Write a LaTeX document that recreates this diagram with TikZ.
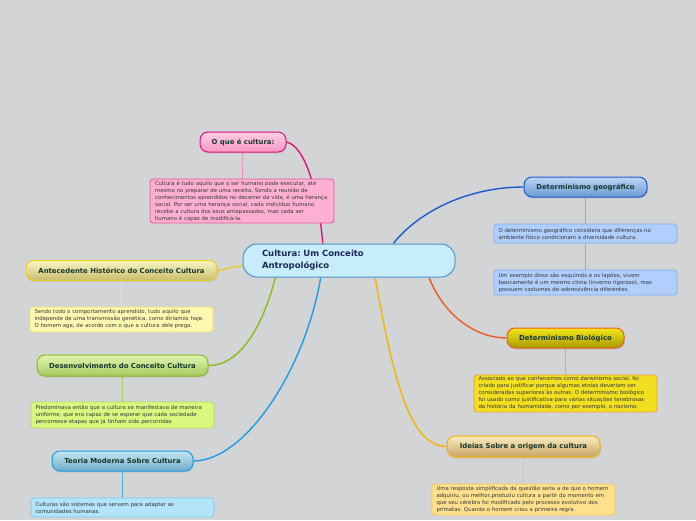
\documentclass[tikz,border=0pt]{standalone}
\usepackage{fontspec}
\setmainfont{DejaVu Sans}
\usetikzlibrary{shadows,backgrounds}
\frenchspacing

\definecolor{bgcol}{RGB}{211,212,214}
\definecolor{topictext}{RGB}{22,56,44}
\definecolor{notetext}{RGB}{55,55,55}
\definecolor{maintext}{RGB}{26,40,86}
% pink branch
\definecolor{pinkline}{RGB}{224,21,122}
\definecolor{pinktop}{RGB}{255,206,228}
\definecolor{pinkbot}{RGB}{255,150,198}
\definecolor{pinknote}{RGB}{255,176,210}
\definecolor{pinkedge}{RGB}{232,88,158}
% yellow branch
\definecolor{yelline}{RGB}{232,208,32}
\definecolor{yeltop}{RGB}{250,246,196}
\definecolor{yelbot}{RGB}{200,188,108}
\definecolor{yelnote}{RGB}{255,248,176}
\definecolor{yeledge}{RGB}{240,224,112}
% green branch
\definecolor{grnline}{RGB}{140,188,28}
\definecolor{grntop}{RGB}{226,246,178}
\definecolor{grnbot}{RGB}{168,200,96}
\definecolor{grnnote}{RGB}{216,248,128}
\definecolor{grnedge}{RGB}{180,220,88}
% light blue branch
\definecolor{cyaline}{RGB}{28,158,230}
\definecolor{cyatop}{RGB}{196,230,242}
\definecolor{cyabot}{RGB}{112,172,200}
\definecolor{cyanote}{RGB}{178,228,250}
\definecolor{cyaedge}{RGB}{124,200,240}
% dark blue branch
\definecolor{bluline}{RGB}{26,92,208}
\definecolor{blutop}{RGB}{188,214,246}
\definecolor{blubot}{RGB}{108,152,208}
\definecolor{blunote}{RGB}{176,206,255}
\definecolor{bluedge}{RGB}{132,174,234}
% orange-red branch
\definecolor{redline}{RGB}{240,90,34}
\definecolor{oliveTop}{RGB}{244,232,24}
\definecolor{oliveBot}{RGB}{168,152,0}
\definecolor{olivenote}{RGB}{240,224,32}
\definecolor{oliveedge}{RGB}{240,154,64}
% orange branch
\definecolor{orgline}{RGB}{244,180,0}
\definecolor{orgtop}{RGB}{250,236,192}
\definecolor{orgbot}{RGB}{200,164,100}
\definecolor{orgnote}{RGB}{255,224,140}
\definecolor{orgedge}{RGB}{244,200,96}
% centre
\definecolor{mainfill}{RGB}{199,236,251}
\definecolor{mainedge}{RGB}{75,148,200}

\begin{document}
\begin{tikzpicture}[
  x=1pt, y=-1pt,
  topic/.style={
    draw,
    rounded corners=8pt,
    line width=1pt,
    minimum height=20pt,
    inner sep=0pt,
    align=center,
    text=topictext,
    font=\fontsize{6.9}{8}\selectfont\bfseries,
    drop shadow={opacity=0.18, shadow xshift=1pt, shadow yshift=-1.5pt}
  },
  note/.style={
    draw,
    rounded corners=3pt,
    line width=0.8pt,
    text width=174pt,
    inner xsep=4.5pt,
    inner ysep=0pt,
    align=left,
    text=notetext,
    font=\fontsize{5.4}{7}\selectfont
  },
  branch/.style={line width=1.4pt},
  stem/.style={line width=0.7pt}
]

\useasboundingbox (0,0) rectangle (696,520);

% Central topic
\node[draw=mainedge, fill=mainfill, line width=1pt, rounded corners=14pt,
  minimum width=212pt, minimum height=33pt, text width=174pt, inner xsep=19pt,
  align=left, text=maintext, font=\fontsize{8.5}{12}\selectfont\bfseries]
  (central) at (349,260.5) {Cultura: Um Conceito\\Antropológico};

% Left side
\node[topic, draw=pinkline, top color=pinktop, bottom color=pinkbot, minimum width=86pt]
  (oque) at (243,142) {O que é cultura:};
\node[note, fill=pinknote, draw=pinkedge, minimum width=184pt, minimum height=44pt]
  (oquenote) at (242,201) {Cultura é tudo aquilo que o ser humano pode executar, até\\
  mesmo no preparar de uma receita. Sendo a reunião de\\
  conhecimentos aprendidos no decorrer da vida, é uma herança\\
  social. Por ser uma herança social, cada individuo humano\\
  recebe a cultura dos seus antepassados, mas cada ser\\
  humano é capaz de modificá-la.};

\node[topic, draw=yelline, top color=yeltop, bottom color=yelbot, minimum width=191pt]
  (ante) at (121.5,270.5) {Antecedente Histórico do Conceito Cultura};
\node[note, fill=yelnote, draw=yeledge, minimum height=25pt]
  (antenote) at (121.5,319.5) {Sendo todo o comportamento aprendido, tudo aquilo que\\
  independe de uma transmissão genética, como diríamos hoje.\\
  O homem age, de acordo com o que a cultura dele prega.};

\node[topic, draw=grnline, top color=grntop, bottom color=grnbot, minimum width=171pt, minimum height=21pt]
  (desen) at (122.5,365.5) {Desenvolvimento do Conceito Cultura};
\node[note, fill=grnnote, draw=grnedge, minimum height=26pt]
  (desennote) at (122.5,415) {Predominava então que a cultura se manifestava de maneira\\
  uniforme, que era capaz de se esperar que cada sociedade\\
  percorresse etapas que já tinham sido percorridas};

\node[topic, draw=cyaline, top color=cyatop, bottom color=cyabot, minimum width=141pt]
  (teoria) at (122.5,461) {Teoria Moderna Sobre Cultura};
\node[note, fill=cyanote, draw=cyaedge, minimum height=19pt]
  (teorianote) at (122.5,507.5) {Culturas são sistemas que servem para adaptar as\\
  comunidades humanas.};

% Right side
\node[topic, draw=bluline, top color=blutop, bottom color=blubot, minimum width=123pt]
  (geo) at (585.5,187) {Determinismo geográfico};
\node[note, fill=blunote, draw=bluedge, minimum height=19pt]
  (geonote) at (585.5,233.5) {O determinismo geográfico considera que diferenças no\\
  ambiente físico condicionam a diversidade cultura.};
\node[note, fill=blunote, draw=bluedge, minimum height=25pt]
  (geoexample) at (585.5,282.5) {Um exemplo disso são esquimós e os lapões, vivem\\
  basicamente é um mesmo clima (inverno rigoroso), mas\\
  possuem costumes de sobrevivência diferentes.};

\node[topic, draw=redline, top color=oliveTop, bottom color=oliveBot, minimum width=117pt]
  (bio) at (565.5,338) {Determinismo Biológico};
\node[note, fill=olivenote, draw=oliveedge, minimum height=37pt]
  (bionote) at (565.5,393.5) {Associado ao que conhecemos como darwinismo social, foi\\
  criado para justificar porque algumas etnias deveriam ser\\
  consideradas superiores às outras. O determinismo biológico\\
  foi usado como justificativa para várias situações tenebrosas\\
  da história da humanidade, como por exemplo, o nazismo.};

\node[topic, draw=orgline, top color=orgtop, bottom color=orgbot, minimum width=153pt, minimum height=21pt]
  (ideias) at (523.5,446.5) {Ideias Sobre a origem da cultura};
\node[note, fill=orgnote, draw=orgedge, minimum height=31pt]
  (ideiasnote) at (523.5,499.5) {Uma resposta simplificada da questão seria a de que o homem\\
  adquiriu, ou melhor,produziu cultura a partir do momento em\\
  que seu cérebro foi modificado pelo processo evolutivo dos\\
  primatas. Quando o homem criou a primeira regra.};

\begin{scope}[on background layer]
% Canvas
\fill[bgcol] (0,0) rectangle (696,520);

% Branches from the centre
\draw[branch, pinkline] (central.147.6) .. controls (318,190) and (305,146) .. (oque.east);
\draw[branch, yelline] (central.183) .. controls (232,266) and (226,270) .. (ante.east);
\draw[branch, grnline] (central.193.4) .. controls (262,330) and (238,366) .. (desen.east);
\draw[branch, cyaline] (central.211.4) .. controls (305,370) and (245,461) .. (teoria.east);
\draw[branch, bluline] (central.21.9) .. controls (420,210) and (470,187) .. (geo.west);
\draw[branch, redline] (central.-12.4) .. controls (445,318) and (478,338) .. (bio.west);
\draw[branch, orgline] (central.-33.4) .. controls (395,390) and (412,446) .. (ideias.west);

% Stems to the notes
\draw[stem, pinkedge!70] (oque) -- (oquenote);
\draw[stem, yeledge!80] (ante) -- (antenote);
\draw[stem, grnline!70] (desen) -- (desennote);
\draw[stem, cyaline!80] (teoria) -- (teorianote);
\draw[stem, bluedge] (geo) -- (geonote);
\draw[stem, bluedge] (geonote) -- (geoexample);
\draw[stem, redline!60] (bio) -- (bionote);
\draw[stem, orgedge] (ideias) -- (ideiasnote);
\end{scope}

\end{tikzpicture}
\end{document}
